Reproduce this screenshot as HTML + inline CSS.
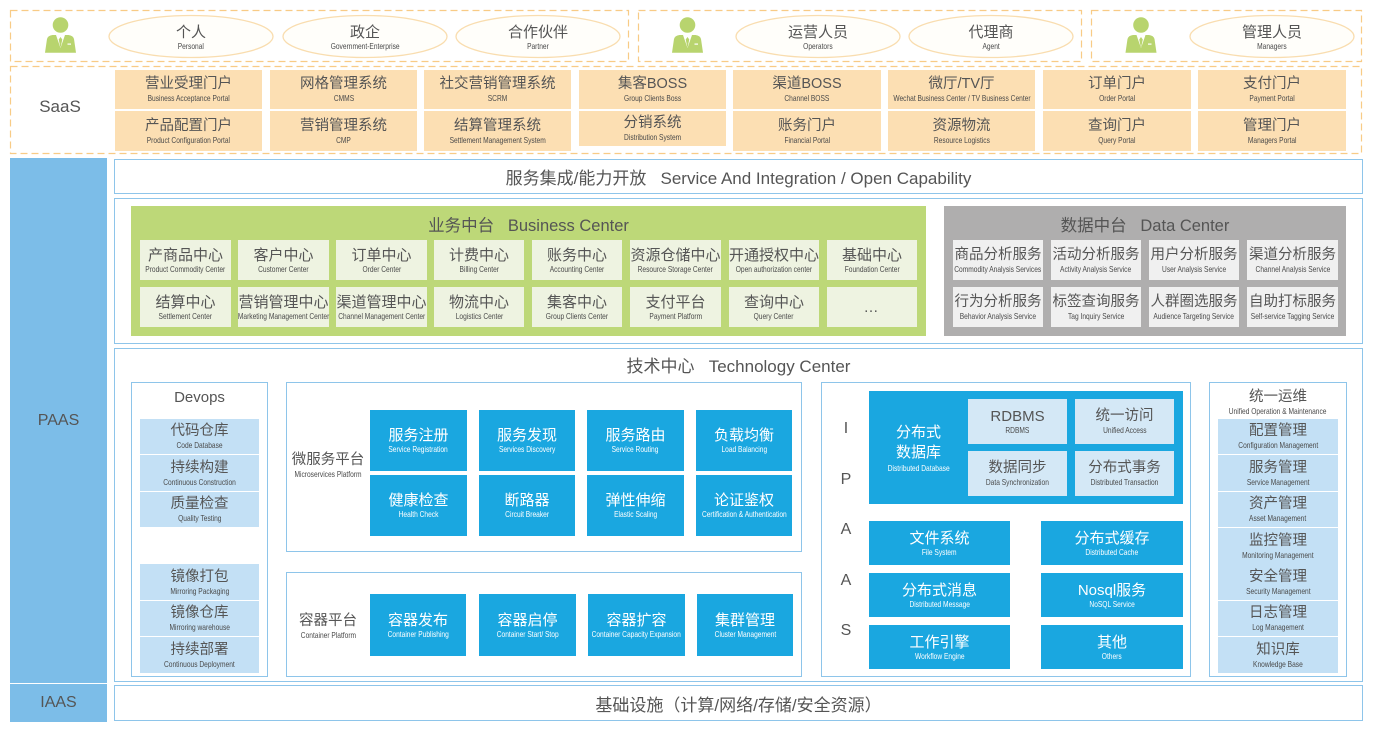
<!DOCTYPE html>
<html><head><meta charset="utf-8">
<style>
*{margin:0;padding:0;box-sizing:border-box}
html,body{width:1375px;height:731px;background:#fff;overflow:hidden}
body{position:relative;font-family:"Liberation Sans","Noto Sans CJK SC",sans-serif;color:#555}
.a{position:absolute}
.b{position:absolute;display:flex;flex-direction:column;align-items:center;justify-content:center;text-align:center;white-space:nowrap}
.cn{font-family:"Liberation Sans","Noto Sans CJK SC",sans-serif;font-size:14.5px;line-height:17px;display:block}
.en{font-family:"Liberation Sans","Noto Sans CJK SC",sans-serif;font-size:8.5px;line-height:10px;display:block;transform:scaleX(.78);color:#4a4a4a}
.bt .en{color:#fff}
.sa{background:#FCDFB3;color:#555}
.gi{background:#EEF3E1;color:#555}
.gi .cn{font-size:15px}
.di{background:#F0F0F0;color:#555}
.bt{background:#1AA7E0;color:#fff}
.bt .cn{font-size:15px}
.lb{background:#C3E0F5;color:#555}
.ls{background:#D4E8F6;color:#555}
.bx{position:absolute;border:1px solid #8EC5EA;background:#fff}
.ttl{font-size:16.5px}
</style></head><body>

<svg class="a" style="left:0;top:0" width="1375" height="160">
  <g fill="none" stroke="#F8CB86" stroke-width="1.2" stroke-dasharray="7 4">
    <rect x="10.5" y="10.5" width="618" height="51"/>
    <rect x="638.5" y="10.5" width="443" height="51"/>
    <rect x="1091.5" y="10.5" width="270" height="51"/>
    <rect x="10.5" y="66.5" width="1351" height="87"/>
  </g>
  <g fill="#FFFEFA" stroke="#F9DDAF" stroke-width="1.3">
    <ellipse cx="191" cy="36.5" rx="82" ry="21"/>
    <ellipse cx="365" cy="36.5" rx="82" ry="21"/>
    <ellipse cx="538" cy="36.5" rx="82" ry="21"/>
    <ellipse cx="818" cy="36.5" rx="82" ry="21"/>
    <ellipse cx="991" cy="36.5" rx="82" ry="21"/>
    <ellipse cx="1272" cy="36.5" rx="82" ry="21"/>
  </g>
  <defs>
    <g id="p">
      <circle cx="0" cy="0" r="7.8" fill="#B8D46E"/>
      <path d="M-15.5,27.7 L-13.5,14 Q-12.5,10.5 -8,10 L8,10 Q12.5,10.5 13.5,14 L15.5,27.7 Z" fill="#B8D46E"/>
      <path d="M-4.5,10 L0,23 L4.5,10 Z" fill="#fff"/>
      <path d="M0,12 L-1.8,14.5 L0,23 L1.8,14.5 Z" fill="#B8D46E"/>
      <rect x="7" y="18.5" width="3.5" height="1.2" fill="#fff"/>
    </g>
  </defs>
  <use href="#p" x="60.5" y="25"/>
  <use href="#p" x="687.5" y="25"/>
  <use href="#p" x="1141" y="25"/>
</svg>

<!-- top role labels -->
<div class="b" style="left:111px;top:19px;width:160px;height:36px"><span class="cn" style="font-size:15px">个人</span><span class="en">Personal</span></div>
<div class="b" style="left:285px;top:19px;width:160px;height:36px"><span class="cn" style="font-size:15px">政企</span><span class="en">Government-Enterprise</span></div>
<div class="b" style="left:458px;top:19px;width:160px;height:36px"><span class="cn" style="font-size:15px">合作伙伴</span><span class="en">Partner</span></div>
<div class="b" style="left:738px;top:19px;width:160px;height:36px"><span class="cn" style="font-size:15px">运营人员</span><span class="en">Operators</span></div>
<div class="b" style="left:911px;top:19px;width:160px;height:36px"><span class="cn" style="font-size:15px">代理商</span><span class="en">Agent</span></div>
<div class="b" style="left:1192px;top:19px;width:160px;height:36px"><span class="cn" style="font-size:15px">管理人员</span><span class="en">Managers</span></div>

<!-- SaaS -->
<div class="b" style="left:12px;top:92px;width:96px;height:30px;font-size:17px">SaaS</div>
<div class="b sa" style="left:115px;top:70px;width:147px;height:39px"><span class="cn">营业受理门户</span><span class="en">Business Acceptance Portal</span></div>
<div class="b sa" style="left:270px;top:70px;width:147px;height:39px"><span class="cn">网格管理系统</span><span class="en">CMMS</span></div>
<div class="b sa" style="left:424px;top:70px;width:147px;height:39px"><span class="cn">社交营销管理系统</span><span class="en">SCRM</span></div>
<div class="b sa" style="left:579px;top:70px;width:147px;height:39px"><span class="cn">集客BOSS</span><span class="en">Group Clients Boss</span></div>
<div class="b sa" style="left:733px;top:70px;width:148px;height:39px"><span class="cn">渠道BOSS</span><span class="en">Channel BOSS</span></div>
<div class="b sa" style="left:888px;top:70px;width:147px;height:39px"><span class="cn">微厅/TV厅</span><span class="en">Wechat Business Center / TV Business Center</span></div>
<div class="b sa" style="left:1043px;top:70px;width:148px;height:39px"><span class="cn">订单门户</span><span class="en">Order Portal</span></div>
<div class="b sa" style="left:1198px;top:70px;width:148px;height:39px"><span class="cn">支付门户</span><span class="en">Payment Portal</span></div>

<div class="b sa" style="left:115px;top:111px;width:147px;height:40px"><span class="cn">产品配置门户</span><span class="en">Product Configuration Portal</span></div>
<div class="b sa" style="left:270px;top:111px;width:147px;height:40px"><span class="cn">营销管理系统</span><span class="en">CMP</span></div>
<div class="b sa" style="left:424px;top:111px;width:147px;height:40px"><span class="cn">结算管理系统</span><span class="en">Settlement Management System</span></div>
<div class="b sa" style="left:579px;top:111px;width:147px;height:35px"><span class="cn">分销系统</span><span class="en">Distribution System</span></div>
<div class="b sa" style="left:733px;top:111px;width:148px;height:40px"><span class="cn">账务门户</span><span class="en">Financial Portal</span></div>
<div class="b sa" style="left:888px;top:111px;width:147px;height:40px"><span class="cn">资源物流</span><span class="en">Resource Logistics</span></div>
<div class="b sa" style="left:1043px;top:111px;width:148px;height:40px"><span class="cn">查询门户</span><span class="en">Query Portal</span></div>
<div class="b sa" style="left:1198px;top:111px;width:148px;height:40px"><span class="cn">管理门户</span><span class="en">Managers Portal</span></div>

<!-- left column -->
<div class="b" style="left:10px;top:158px;width:97px;height:525px;background:#7CBDE8;font-size:16px;color:#555">PAAS</div>
<div class="b" style="left:10px;top:684px;width:97px;height:38px;background:#7CBDE8;font-size:16px;color:#555">IAAS</div>

<!-- service integration -->
<div class="bx" style="left:114px;top:159px;width:1249px;height:35px"></div>
<div class="b" style="left:114px;top:159px;width:1249px;height:35px;font-size:17px">服务集成/能力开放&nbsp;&nbsp;&nbsp;Service And Integration / Open Capability</div>

<!-- middle platforms -->
<div class="bx" style="left:114px;top:198px;width:1249px;height:146px"></div>
<div class="a" style="left:131px;top:206px;width:795px;height:130px;background:#BDD878"></div>
<div class="b ttl" style="left:131px;top:212px;width:795px;height:24px">业务中台&nbsp;&nbsp;&nbsp;Business Center</div>

<div class="b gi" style="left:140px;top:240px;width:91px;height:40px"><span class="cn">产商品中心</span><span class="en">Product Commodity Center</span></div>
<div class="b gi" style="left:238px;top:240px;width:91px;height:40px"><span class="cn">客户中心</span><span class="en">Customer Center</span></div>
<div class="b gi" style="left:336px;top:240px;width:91px;height:40px"><span class="cn">订单中心</span><span class="en">Order Center</span></div>
<div class="b gi" style="left:434px;top:240px;width:90px;height:40px"><span class="cn">计费中心</span><span class="en">Billing Center</span></div>
<div class="b gi" style="left:532px;top:240px;width:90px;height:40px"><span class="cn">账务中心</span><span class="en">Accounting Center</span></div>
<div class="b gi" style="left:630px;top:240px;width:91px;height:40px"><span class="cn">资源仓储中心</span><span class="en">Resource Storage Center</span></div>
<div class="b gi" style="left:729px;top:240px;width:90px;height:40px"><span class="cn">开通授权中心</span><span class="en">Open authorization center</span></div>
<div class="b gi" style="left:827px;top:240px;width:90px;height:40px"><span class="cn">基础中心</span><span class="en">Foundation Center</span></div>

<div class="b gi" style="left:140px;top:287px;width:91px;height:40px"><span class="cn">结算中心</span><span class="en">Settlement Center</span></div>
<div class="b gi" style="left:238px;top:287px;width:91px;height:40px"><span class="cn">营销管理中心</span><span class="en">Marketing Management Center</span></div>
<div class="b gi" style="left:336px;top:287px;width:91px;height:40px"><span class="cn">渠道管理中心</span><span class="en">Channel Management Center</span></div>
<div class="b gi" style="left:434px;top:287px;width:90px;height:40px"><span class="cn">物流中心</span><span class="en">Logistics Center</span></div>
<div class="b gi" style="left:532px;top:287px;width:90px;height:40px"><span class="cn">集客中心</span><span class="en">Group Clients Center</span></div>
<div class="b gi" style="left:630px;top:287px;width:91px;height:40px"><span class="cn">支付平台</span><span class="en">Payment Platform</span></div>
<div class="b gi" style="left:729px;top:287px;width:90px;height:40px"><span class="cn">查询中心</span><span class="en">Query Center</span></div>
<div class="b gi" style="left:827px;top:287px;width:90px;height:40px"><span class="cn" style="letter-spacing:2px">…</span></div>

<div class="a" style="left:944px;top:206px;width:402px;height:130px;background:#AFAEAE"></div>
<div class="b ttl" style="left:944px;top:212px;width:402px;height:24px">数据中台&nbsp;&nbsp;&nbsp;Data Center</div>
<div class="b di" style="left:953px;top:240px;width:90px;height:40px"><span class="cn">商品分析服务</span><span class="en">Commodity Analysis Services</span></div>
<div class="b di" style="left:1051px;top:240px;width:90px;height:40px"><span class="cn">活动分析服务</span><span class="en">Activity Analysis Service</span></div>
<div class="b di" style="left:1149px;top:240px;width:90px;height:40px"><span class="cn">用户分析服务</span><span class="en">User Analysis Service</span></div>
<div class="b di" style="left:1247px;top:240px;width:91px;height:40px"><span class="cn">渠道分析服务</span><span class="en">Channel Analysis Service</span></div>
<div class="b di" style="left:953px;top:287px;width:90px;height:40px"><span class="cn">行为分析服务</span><span class="en">Behavior Analysis Service</span></div>
<div class="b di" style="left:1051px;top:287px;width:90px;height:40px"><span class="cn">标签查询服务</span><span class="en">Tag Inquiry Service</span></div>
<div class="b di" style="left:1149px;top:287px;width:90px;height:40px"><span class="cn">人群圈选服务</span><span class="en">Audience Targeting Service</span></div>
<div class="b di" style="left:1247px;top:287px;width:91px;height:40px"><span class="cn">自助打标服务</span><span class="en">Self-service Tagging Service</span></div>

<!-- technology center -->
<div class="bx" style="left:114px;top:348px;width:1249px;height:334px"></div>
<div class="b" style="left:114px;top:352px;width:1249px;height:24px;font-size:17px">技术中心&nbsp;&nbsp;&nbsp;Technology Center</div>

<!-- Devops -->
<div class="bx" style="left:131px;top:382px;width:137px;height:295px"></div>
<div class="b" style="left:131px;top:386px;width:137px;height:22px;font-size:15px">Devops</div>
<div class="b lb" style="left:140px;top:419px;width:119px;height:35px"><span class="cn">代码仓库</span><span class="en">Code Database</span></div>
<div class="b lb" style="left:140px;top:455px;width:119px;height:36px"><span class="cn">持续构建</span><span class="en">Continuous Construction</span></div>
<div class="b lb" style="left:140px;top:492px;width:119px;height:35px"><span class="cn">质量检查</span><span class="en">Quality Testing</span></div>
<div class="b lb" style="left:140px;top:564px;width:119px;height:36px"><span class="cn">镜像打包</span><span class="en">Mirroring Packaging</span></div>
<div class="b lb" style="left:140px;top:601px;width:119px;height:35px"><span class="cn">镜像仓库</span><span class="en">Mirroring warehouse</span></div>
<div class="b lb" style="left:140px;top:637px;width:119px;height:36px"><span class="cn">持续部署</span><span class="en">Continuous Deployment</span></div>

<!-- Microservices -->
<div class="bx" style="left:286px;top:382px;width:516px;height:170px"></div>
<div class="b" style="left:288px;top:450px;width:80px;height:30px"><span class="cn" style="font-size:14.5px">微服务平台</span><span class="en">Microservices Platform</span></div>
<div class="b bt" style="left:370px;top:410px;width:97px;height:61px"><span class="cn">服务注册</span><span class="en">Service Registration</span></div>
<div class="b bt" style="left:479px;top:410px;width:96px;height:61px"><span class="cn">服务发现</span><span class="en">Services Discovery</span></div>
<div class="b bt" style="left:587px;top:410px;width:97px;height:61px"><span class="cn">服务路由</span><span class="en">Service Routing</span></div>
<div class="b bt" style="left:696px;top:410px;width:96px;height:61px"><span class="cn">负载均衡</span><span class="en">Load Balancing</span></div>
<div class="b bt" style="left:370px;top:475px;width:97px;height:61px"><span class="cn">健康检查</span><span class="en">Health Check</span></div>
<div class="b bt" style="left:479px;top:475px;width:96px;height:61px"><span class="cn">断路器</span><span class="en">Circuit Breaker</span></div>
<div class="b bt" style="left:587px;top:475px;width:97px;height:61px"><span class="cn">弹性伸缩</span><span class="en">Elastic Scaling</span></div>
<div class="b bt" style="left:696px;top:475px;width:96px;height:61px"><span class="cn">论证鉴权</span><span class="en">Certification &amp; Authentication</span></div>

<!-- Container -->
<div class="bx" style="left:286px;top:572px;width:516px;height:105px"></div>
<div class="b" style="left:288px;top:611px;width:80px;height:30px"><span class="cn" style="font-size:14.5px">容器平台</span><span class="en">Container Platform</span></div>
<div class="b bt" style="left:370px;top:594px;width:96px;height:62px"><span class="cn">容器发布</span><span class="en">Container Publishing</span></div>
<div class="b bt" style="left:479px;top:594px;width:97px;height:62px"><span class="cn">容器启停</span><span class="en">Container Start/ Stop</span></div>
<div class="b bt" style="left:588px;top:594px;width:97px;height:62px"><span class="cn">容器扩容</span><span class="en">Container Capacity Expansion</span></div>
<div class="b bt" style="left:697px;top:594px;width:96px;height:62px"><span class="cn">集群管理</span><span class="en">Cluster Management</span></div>

<!-- IPAAS -->
<div class="bx" style="left:821px;top:382px;width:370px;height:295px"></div>
<div class="b" style="left:835px;top:418px;width:22px;height:22px;font-size:16px">I</div>
<div class="b" style="left:835px;top:469px;width:22px;height:22px;font-size:16px">P</div>
<div class="b" style="left:835px;top:519px;width:22px;height:22px;font-size:16px">A</div>
<div class="b" style="left:835px;top:570px;width:22px;height:22px;font-size:16px">A</div>
<div class="b" style="left:835px;top:620px;width:22px;height:22px;font-size:16px">S</div>

<div class="a" style="left:869px;top:391px;width:314px;height:113px;background:#1AA7E0"></div>
<div class="b bt" style="left:869px;top:391px;width:99px;height:113px;background:transparent"><span class="cn" style="font-size:15px;line-height:20px">分布式<br>数据库</span><span class="en">Distributed Database</span></div>
<div class="b ls" style="left:968px;top:399px;width:99px;height:45px"><span class="cn" style="font-size:15px">RDBMS</span><span class="en">RDBMS</span></div>
<div class="b ls" style="left:1075px;top:399px;width:99px;height:45px"><span class="cn">统一访问</span><span class="en">Unified Access</span></div>
<div class="b ls" style="left:968px;top:451px;width:99px;height:45px"><span class="cn">数据同步</span><span class="en">Data Synchronization</span></div>
<div class="b ls" style="left:1075px;top:451px;width:99px;height:45px"><span class="cn">分布式事务</span><span class="en">Distributed Transaction</span></div>

<div class="b bt" style="left:869px;top:521px;width:141px;height:44px"><span class="cn">文件系统</span><span class="en">File System</span></div>
<div class="b bt" style="left:1041px;top:521px;width:142px;height:44px"><span class="cn">分布式缓存</span><span class="en">Distributed Cache</span></div>
<div class="b bt" style="left:869px;top:573px;width:141px;height:44px"><span class="cn">分布式消息</span><span class="en">Distributed Message</span></div>
<div class="b bt" style="left:1041px;top:573px;width:142px;height:44px"><span class="cn">Nosql服务</span><span class="en">NoSQL Service</span></div>
<div class="b bt" style="left:869px;top:625px;width:141px;height:44px"><span class="cn">工作引擎</span><span class="en">Workflow Engine</span></div>
<div class="b bt" style="left:1041px;top:625px;width:142px;height:44px"><span class="cn">其他</span><span class="en">Others</span></div>

<!-- Ops -->
<div class="bx" style="left:1209px;top:382px;width:138px;height:295px"></div>
<div class="b" style="left:1209px;top:387px;width:138px;height:30px"><span class="cn">统一运维</span><span class="en">Unified Operation &amp; Maintenance</span></div>
<div class="b lb" style="left:1218px;top:419px;width:120px;height:35px"><span class="cn">配置管理</span><span class="en">Configuration Management</span></div>
<div class="b lb" style="left:1218px;top:455px;width:120px;height:36px"><span class="cn">服务管理</span><span class="en">Service Management</span></div>
<div class="b lb" style="left:1218px;top:492px;width:120px;height:35px"><span class="cn">资产管理</span><span class="en">Asset Management</span></div>
<div class="b lb" style="left:1218px;top:528px;width:120px;height:36px"><span class="cn">监控管理</span><span class="en">Monitoring Management</span></div>
<div class="b lb" style="left:1218px;top:564px;width:120px;height:36px"><span class="cn">安全管理</span><span class="en">Security Management</span></div>
<div class="b lb" style="left:1218px;top:601px;width:120px;height:35px"><span class="cn">日志管理</span><span class="en">Log Management</span></div>
<div class="b lb" style="left:1218px;top:637px;width:120px;height:36px"><span class="cn">知识库</span><span class="en">Knowledge Base</span></div>

<!-- IAAS bar -->
<div class="bx" style="left:114px;top:685px;width:1249px;height:36px"></div>
<div class="b" style="left:114px;top:685px;width:1249px;height:36px;font-size:17px">基础设施（计算/网络/存储/安全资源）</div>

</body></html>
